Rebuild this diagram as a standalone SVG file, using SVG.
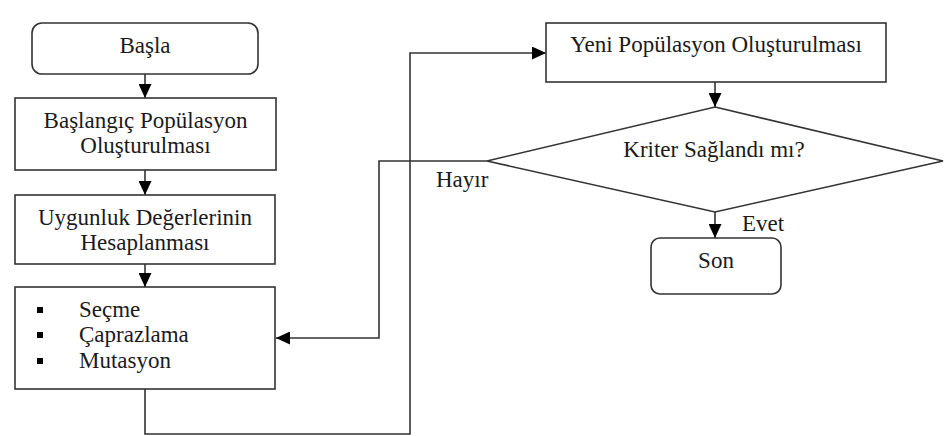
<svg xmlns="http://www.w3.org/2000/svg" width="944" height="436" viewBox="0 0 944 436">
<style>
.box{fill:#fff;stroke:#333;stroke-width:1.6}
.t{font-family:"Liberation Serif","DejaVu Serif",serif;font-size:23px;fill:#1a1a1a}
.c{text-anchor:middle}
.ln{fill:none;stroke:#333;stroke-width:1.6}
</style>
<defs>
<marker id="ah" markerUnits="userSpaceOnUse" markerWidth="14" markerHeight="13" refX="14" refY="6.5" orient="auto">
<path d="M0,0 L14,6.5 L0,13 z" fill="#000"/>
</marker>
</defs>
<rect width="944" height="436" fill="#fff"/>
<g id="connectors">
<line class="ln" x1="145" y1="74" x2="145" y2="98" marker-end="url(#ah)"/>
<line class="ln" x1="145" y1="170" x2="145" y2="195" marker-end="url(#ah)"/>
<line class="ln" x1="145" y1="264" x2="145" y2="287" marker-end="url(#ah)"/>
<polyline class="ln" points="145,389 145,434 410,434 410,53 546,53" marker-end="url(#ah)"/>
<line class="ln" x1="715" y1="82" x2="715" y2="107" marker-end="url(#ah)"/>
<polyline class="ln" points="487,161 379,161 379,338 276,338" marker-end="url(#ah)"/>
<line class="ln" x1="715" y1="212" x2="715" y2="238" marker-end="url(#ah)"/>
<text class="t" x="436" y="187">Hayır</text>
<text class="t" x="742" y="231">Evet</text>
</g>
<g id="basla">
<rect class="box" x="32" y="23" width="226" height="51" rx="10"/>
<text class="t c" x="145" y="53">Başla</text>
</g>
<g id="baslangic">
<rect class="box" x="15" y="98" width="261" height="72"/>
<text class="t c" x="145.5" y="128">Başlangıç Popülasyon</text>
<text class="t c" x="145.5" y="153">Oluşturulması</text>
</g>
<g id="uygunluk">
<rect class="box" x="15" y="195" width="260" height="69"/>
<text class="t c" x="145" y="225">Uygunluk Değerlerinin</text>
<text class="t c" x="145" y="250">Hesaplanması</text>
</g>
<g id="operatorler">
<rect class="box" x="15" y="287" width="260" height="102"/>
<rect x="37" y="307" width="6" height="6" fill="#000"/>
<rect x="37" y="332" width="6" height="6" fill="#000"/>
<rect x="37" y="358" width="6" height="6" fill="#000"/>
<text class="t" x="79" y="317">Seçme</text>
<text class="t" x="79" y="342">Çaprazlama</text>
<text class="t" x="79" y="368">Mutasyon</text>
</g>
<g id="yeni">
<rect class="box" x="546" y="23" width="340" height="59"/>
<text class="t c" x="716" y="52">Yeni Popülasyon Oluşturulması</text>
</g>
<g id="kriter">
<polygon class="box" points="715,107 943,161 715,212 487,161"/>
<text class="t c" x="714" y="157">Kriter Sağlandı mı?</text>
</g>
<g id="son">
<rect class="box" x="651" y="238" width="130" height="56" rx="9"/>
<text class="t c" x="716" y="268">Son</text>
</g>
</svg>
